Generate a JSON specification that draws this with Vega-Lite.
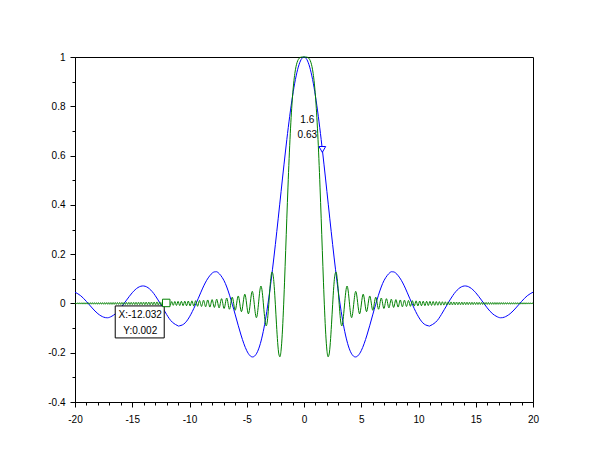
{
  "$schema": "https://vega.github.io/schema/vega-lite/v6.json",
  "width": 458,
  "height": 345,
  "autosize": "none",
  "padding": {"left": 75, "top": 57, "right": 77, "bottom": 58},
  "background": "white",
  "config": {
    "view": {"stroke": "black", "strokeWidth": 1},
    "axis": {"labelFont": "Liberation Sans", "labelFontSize": 10, "labelColor": "#000", "domainColor": "#000", "tickColor": "#000", "grid": false, "domainWidth": 1, "tickWidth": 1, "title": null}
  },
  "datasets": {
    "blue": [
      {"x":-20,"y":0.0456},{"x":-19.5,"y":0.0311},{"x":-19,"y":0.0079},{"x":-18.5,"y":-0.0185},{"x":-18,"y":-0.0417},{"x":-17.5,"y":-0.0557},{"x":-17.2208,"y":-0.058},{"x":-17,"y":-0.0566},{"x":-16.5,"y":-0.0431},{"x":-16,"y":-0.018},{"x":-15.5,"y":0.0133},{"x":-15,"y":0.0434},{"x":-14.5,"y":0.0645},{"x":-14,"y":0.0708},{"x":-13.5,"y":0.0595},{"x":-13,"y":0.0323},{"x":-12.5,"y":-0.0053},{"x":-12,"y":-0.0447},{"x":-11.5,"y":-0.0761},{"x":-11,"y":-0.0909},{"x":-10.9041,"y":-0.0913},{"x":-10.5,"y":-0.0838},{"x":-10,"y":-0.0544},{"x":-9.5,"y":-0.0079},{"x":-9,"y":0.0458},{"x":-8.5,"y":0.0939},{"x":-8,"y":0.1237},{"x":-7.7253,"y":0.1284},{"x":-7.5,"y":0.1251},{"x":-7,"y":0.0939},{"x":-6.5,"y":0.0331},{"x":-6,"y":-0.0466},{"x":-5.5,"y":-0.1283},{"x":-5,"y":-0.1918},{"x":-4.5,"y":-0.2172},{"x":-4,"y":-0.1892},{"x":-3.5,"y":-0.1002},{"x":-3,"y":0.047},{"x":-2.5,"y":0.2394},{"x":-2,"y":0.4546},{"x":-1.5,"y":0.665},{"x":-1,"y":0.8415},{"x":-0.5,"y":0.9589},
      {"x":0,"y":1},
      {"x":0.5,"y":0.9589},{"x":1,"y":0.8415},{"x":1.5,"y":0.665},{"x":2,"y":0.4546},{"x":2.5,"y":0.2394},{"x":3,"y":0.047},{"x":3.5,"y":-0.1002},{"x":4,"y":-0.1892},{"x":4.5,"y":-0.2172},{"x":5,"y":-0.1918},{"x":5.5,"y":-0.1283},{"x":6,"y":-0.0466},{"x":6.5,"y":0.0331},{"x":7,"y":0.0939},{"x":7.5,"y":0.1251},{"x":7.7253,"y":0.1284},{"x":8,"y":0.1237},{"x":8.5,"y":0.0939},{"x":9,"y":0.0458},{"x":9.5,"y":-0.0079},{"x":10,"y":-0.0544},{"x":10.5,"y":-0.0838},{"x":10.9041,"y":-0.0913},{"x":11,"y":-0.0909},{"x":11.5,"y":-0.0761},{"x":12,"y":-0.0447},{"x":12.5,"y":-0.0053},{"x":13,"y":0.0323},{"x":13.5,"y":0.0595},{"x":14,"y":0.0708},{"x":14.5,"y":0.0645},{"x":15,"y":0.0434},{"x":15.5,"y":0.0133},{"x":16,"y":-0.018},{"x":16.5,"y":-0.0431},{"x":17,"y":-0.0566},{"x":17.2208,"y":-0.058},{"x":17.5,"y":-0.0557},{"x":18,"y":-0.0417},{"x":18.5,"y":-0.0185},{"x":19,"y":0.0079},{"x":19.5,"y":0.0311},{"x":20,"y":0.0456}
    ],
    "green": [
      {"x":-20,"y":-0.0021},{"x":-19.935,"y":0.0025},{"x":-19.856,"y":-0.0025},{"x":-19.777,"y":0.0026},{"x":-19.697,"y":-0.0026},{"x":-19.618,"y":0.0026},{"x":-19.537,"y":-0.0026},{"x":-19.457,"y":0.0026},{"x":-19.376,"y":-0.0027},{"x":-19.295,"y":0.0027},{"x":-19.213,"y":-0.0027},{"x":-19.131,"y":0.0027},{"x":-19.049,"y":-0.0028},{"x":-18.966,"y":0.0028},{"x":-18.883,"y":-0.0028},{"x":-18.8,"y":0.0028},{"x":-18.716,"y":-0.0029},{"x":-18.632,"y":0.0029},{"x":-18.547,"y":-0.0029},{"x":-18.463,"y":0.0029},{"x":-18.377,"y":-0.003},{"x":-18.292,"y":0.003},{"x":-18.205,"y":-0.003},{"x":-18.119,"y":0.003},{"x":-18.032,"y":-0.0031},{"x":-17.945,"y":0.0031},{"x":-17.857,"y":-0.0031},{"x":-17.769,"y":0.0032},{"x":-17.68,"y":-0.0032},{"x":-17.591,"y":0.0032},{"x":-17.502,"y":-0.0033},{"x":-17.412,"y":0.0033},{"x":-17.321,"y":-0.0033},{"x":-17.23,"y":0.0034},{"x":-17.139,"y":-0.0034},{"x":-17.047,"y":0.0034},{"x":-16.955,"y":-0.0035},{"x":-16.862,"y":0.0035},{"x":-16.768,"y":-0.0036},{"x":-16.674,"y":0.0036},{"x":-16.58,"y":-0.0036},{"x":-16.485,"y":0.0037},{"x":-16.389,"y":-0.0037},{"x":-16.293,"y":0.0038},{"x":-16.196,"y":-0.0038},{"x":-16.099,"y":0.0039},{"x":-16.001,"y":-0.0039},{"x":-15.903,"y":0.004},{"x":-15.804,"y":-0.004},{"x":-15.704,"y":0.0041},{"x":-15.604,"y":-0.0041},{"x":-15.503,"y":0.0042},{"x":-15.401,"y":-0.0042},{"x":-15.299,"y":0.0043},{"x":-15.196,"y":-0.0043},{"x":-15.092,"y":0.0044},{"x":-14.988,"y":-0.0045},{"x":-14.882,"y":0.0045},{"x":-14.776,"y":-0.0046},{"x":-14.67,"y":0.0046},{"x":-14.562,"y":-0.0047},{"x":-14.454,"y":0.0048},{"x":-14.345,"y":-0.0049},{"x":-14.235,"y":0.0049},{"x":-14.124,"y":-0.005},{"x":-14.013,"y":0.0051},{"x":-13.9,"y":-0.0052},{"x":-13.787,"y":0.0053},{"x":-13.672,"y":-0.0053},{"x":-13.557,"y":0.0054},{"x":-13.44,"y":-0.0055},{"x":-13.323,"y":0.0056},{"x":-13.205,"y":-0.0057},{"x":-13.085,"y":0.0058},{"x":-12.964,"y":-0.0059},{"x":-12.843,"y":0.0061},{"x":-12.72,"y":-0.0062},{"x":-12.596,"y":0.0063},{"x":-12.47,"y":-0.0064},{"x":-12.344,"y":0.0066},{"x":-12.216,"y":-0.0067},{"x":-12.087,"y":0.0068},{"x":-11.956,"y":-0.007},{"x":-11.824,"y":0.0072},{"x":-11.69,"y":-0.0073},{"x":-11.555,"y":0.0075},{"x":-11.418,"y":-0.0077},{"x":-11.28,"y":0.0079},{"x":-11.14,"y":-0.0081},{"x":-10.998,"y":0.0083},{"x":-10.854,"y":-0.0085},{"x":-10.708,"y":0.0087},{"x":-10.561,"y":-0.009},{"x":-10.411,"y":0.0092},{"x":-10.259,"y":-0.0095},{"x":-10.105,"y":0.0098},{"x":-9.948,"y":-0.0101},{"x":-9.789,"y":0.0104},{"x":-9.627,"y":-0.0108},{"x":-9.462,"y":0.0112},{"x":-9.295,"y":-0.0116},{"x":-9.124,"y":0.012},{"x":-8.951,"y":-0.0125},{"x":-8.773,"y":0.013},{"x":-8.592,"y":-0.0135},{"x":-8.408,"y":0.0141},{"x":-8.219,"y":-0.0148},{"x":-8.025,"y":0.0155},{"x":-7.827,"y":-0.0163},{"x":-7.624,"y":0.0172},{"x":-7.415,"y":-0.0182},{"x":-7.2,"y":0.0193},{"x":-6.978,"y":-0.0205},{"x":-6.749,"y":0.022},{"x":-6.512,"y":-0.0236},{"x":-6.267,"y":0.0255},{"x":-6.011,"y":-0.0277},{"x":-5.743,"y":0.0303},{"x":-5.463,"y":-0.0335},{"x":-5.168,"y":0.0374},{"x":-4.854,"y":-0.0424},{"x":-4.519,"y":0.049},{"x":-4.157,"y":-0.0579},{"x":-3.76,"y":0.0707},
      {"x":-3.3,"y":-0.0913},{"x":-3.2,"y":-0.0711},{"x":-3.1,"y":-0.0192},{"x":-3.0,"y":0.0458},{"x":-2.9,"y":0.101},{"x":-2.8,"y":0.1275},{"x":-2.7,"y":0.116},{"x":-2.6,"y":0.0679},{"x":-2.5,"y":-0.0053},{"x":-2.4,"y":-0.0868},{"x":-2.3,"y":-0.1583},{"x":-2.2,"y":-0.2049},{"x":-2.1,"y":-0.2165},{"x":-2.0,"y":-0.1892},{"x":-1.9,"y":-0.1251},{"x":-1.8,"y":-0.0303},{"x":-1.7,"y":0.0861},{"x":-1.6,"y":0.2146},{"x":-1.5,"y":0.3458},{"x":-1.4,"y":0.4721},{"x":-1.3,"y":0.5874},{"x":-1.2,"y":0.6885},{"x":-1.1,"y":0.7732},{"x":-1.0,"y":0.8415},{"x":-0.9,"y":0.8942},{"x":-0.8,"y":0.9331},{"x":-0.7,"y":0.9605},{"x":-0.6,"y":0.9785},{"x":-0.5,"y":0.9896},{"x":-0.4,"y":0.9957},{"x":-0.3,"y":0.9987},{"x":-0.2,"y":0.9997},{"x":-0.1,"y":1.0},
      {"x":0,"y":1},
      {"x":0.1,"y":1.0},{"x":0.2,"y":0.9997},{"x":0.3,"y":0.9987},{"x":0.4,"y":0.9957},{"x":0.5,"y":0.9896},{"x":0.6,"y":0.9785},{"x":0.7,"y":0.9605},{"x":0.8,"y":0.9331},{"x":0.9,"y":0.8942},{"x":1.0,"y":0.8415},{"x":1.1,"y":0.7732},{"x":1.2,"y":0.6885},{"x":1.3,"y":0.5874},{"x":1.4,"y":0.4721},{"x":1.5,"y":0.3458},{"x":1.6,"y":0.2146},{"x":1.7,"y":0.0861},{"x":1.8,"y":-0.0303},{"x":1.9,"y":-0.1251},{"x":2.0,"y":-0.1892},{"x":2.1,"y":-0.2165},{"x":2.2,"y":-0.2049},{"x":2.3,"y":-0.1583},{"x":2.4,"y":-0.0868},{"x":2.5,"y":-0.0053},{"x":2.6,"y":0.0679},{"x":2.7,"y":0.116},{"x":2.8,"y":0.1275},{"x":2.9,"y":0.101},{"x":3.0,"y":0.0458},{"x":3.1,"y":-0.0192},{"x":3.2,"y":-0.0711},{"x":3.3,"y":-0.0913},
      {"x":3.76,"y":0.0707},{"x":4.157,"y":-0.0579},{"x":4.519,"y":0.049},{"x":4.854,"y":-0.0424},{"x":5.168,"y":0.0374},{"x":5.463,"y":-0.0335},{"x":5.743,"y":0.0303},{"x":6.011,"y":-0.0277},{"x":6.267,"y":0.0255},{"x":6.512,"y":-0.0236},{"x":6.749,"y":0.022},{"x":6.978,"y":-0.0205},{"x":7.2,"y":0.0193},{"x":7.415,"y":-0.0182},{"x":7.624,"y":0.0172},{"x":7.827,"y":-0.0163},{"x":8.025,"y":0.0155},{"x":8.219,"y":-0.0148},{"x":8.408,"y":0.0141},{"x":8.592,"y":-0.0135},{"x":8.773,"y":0.013},{"x":8.951,"y":-0.0125},{"x":9.124,"y":0.012},{"x":9.295,"y":-0.0116},{"x":9.462,"y":0.0112},{"x":9.627,"y":-0.0108},{"x":9.789,"y":0.0104},{"x":9.948,"y":-0.0101},{"x":10.105,"y":0.0098},{"x":10.259,"y":-0.0095},{"x":10.411,"y":0.0092},{"x":10.561,"y":-0.009},{"x":10.708,"y":0.0087},{"x":10.854,"y":-0.0085},{"x":10.998,"y":0.0083},{"x":11.14,"y":-0.0081},{"x":11.28,"y":0.0079},{"x":11.418,"y":-0.0077},{"x":11.555,"y":0.0075},{"x":11.69,"y":-0.0073},{"x":11.824,"y":0.0072},{"x":11.956,"y":-0.007},{"x":12.087,"y":0.0068},{"x":12.216,"y":-0.0067},{"x":12.344,"y":0.0066},{"x":12.47,"y":-0.0064},{"x":12.596,"y":0.0063},{"x":12.72,"y":-0.0062},{"x":12.843,"y":0.0061},{"x":12.964,"y":-0.0059},{"x":13.085,"y":0.0058},{"x":13.205,"y":-0.0057},{"x":13.323,"y":0.0056},{"x":13.44,"y":-0.0055},{"x":13.557,"y":0.0054},{"x":13.672,"y":-0.0053},{"x":13.787,"y":0.0053},{"x":13.9,"y":-0.0052},{"x":14.013,"y":0.0051},{"x":14.124,"y":-0.005},{"x":14.235,"y":0.0049},{"x":14.345,"y":-0.0049},{"x":14.454,"y":0.0048},{"x":14.562,"y":-0.0047},{"x":14.67,"y":0.0046},{"x":14.776,"y":-0.0046},{"x":14.882,"y":0.0045},{"x":14.988,"y":-0.0045},{"x":15.092,"y":0.0044},{"x":15.196,"y":-0.0043},{"x":15.299,"y":0.0043},{"x":15.401,"y":-0.0042},{"x":15.503,"y":0.0042},{"x":15.604,"y":-0.0041},{"x":15.704,"y":0.0041},{"x":15.804,"y":-0.004},{"x":15.903,"y":0.004},{"x":16.001,"y":-0.0039},{"x":16.099,"y":0.0039},{"x":16.196,"y":-0.0038},{"x":16.293,"y":0.0038},{"x":16.389,"y":-0.0037},{"x":16.485,"y":0.0037},{"x":16.58,"y":-0.0036},{"x":16.674,"y":0.0036},{"x":16.768,"y":-0.0036},{"x":16.862,"y":0.0035},{"x":16.955,"y":-0.0035},{"x":17.047,"y":0.0034},{"x":17.139,"y":-0.0034},{"x":17.23,"y":0.0034},{"x":17.321,"y":-0.0033},{"x":17.412,"y":0.0033},{"x":17.502,"y":-0.0033},{"x":17.591,"y":0.0032},{"x":17.68,"y":-0.0032},{"x":17.769,"y":0.0032},{"x":17.857,"y":-0.0031},{"x":17.945,"y":0.0031},{"x":18.032,"y":-0.0031},{"x":18.119,"y":0.003},{"x":18.205,"y":-0.003},{"x":18.292,"y":0.003},{"x":18.377,"y":-0.003},{"x":18.463,"y":0.0029},{"x":18.547,"y":-0.0029},{"x":18.632,"y":0.0029},{"x":18.716,"y":-0.0029},{"x":18.8,"y":0.0028},{"x":18.883,"y":-0.0028},{"x":18.966,"y":0.0028},{"x":19.049,"y":-0.0028},{"x":19.131,"y":0.0027},{"x":19.213,"y":-0.0027},{"x":19.295,"y":0.0027},{"x":19.376,"y":-0.0027},{"x":19.457,"y":0.0026},{"x":19.537,"y":-0.0026},{"x":19.618,"y":0.0026},{"x":19.697,"y":-0.0026},{"x":19.777,"y":0.0026},{"x":19.856,"y":-0.0025},{"x":19.935,"y":0.0025},{"x":20,"y":-0.0021}
    ],
    "tip1": [{"x": -12.032, "y": 0.002, "l1": "X:-12.032", "l2": "Y:0.002"}],
    "tip2": [{"x": 1.6, "y": 0.625, "l1": "1.6", "l2": "0.63"}]
  },
  "resolve": {"axis": {"x": "independent", "y": "independent"}},
  "layer": [
    {
      "data": {"name": "blue"},
      "mark": {"type": "line", "color": "#0000ff", "strokeWidth": 1, "interpolate": "natural"},
      "encoding": {
        "x": {"field": "x", "type": "quantitative", "scale": {"domain": [-20, 20], "nice": false, "zero": false},
              "axis": {"orient": "bottom", "values": [-20, -15, -10, -5, 0, 5, 10, 15, 20], "tickSize": 5, "labelPadding": 7, "labelExpr": "'' + datum.value", "labelFlush": false, "labelOverlap": false}},
        "y": {"field": "y", "type": "quantitative", "scale": {"domain": [-0.4, 1], "nice": false, "zero": false},
              "axis": {"orient": "left", "values": [-0.4, -0.2, 0, 0.2, 0.4, 0.6, 0.8, 1], "tickSize": 5, "labelPadding": 5, "labelExpr": "'' + datum.value", "labelFlush": false, "labelOverlap": false}}
      }
    },
    {
      "data": {"name": "green"},
      "mark": {"type": "line", "color": "#008000", "strokeWidth": 1, "interpolate": "monotone"},
      "encoding": {
        "x": {"field": "x", "type": "quantitative",
              "axis": {"orient": "bottom", "values": [-19, -18, -17, -16, -14, -13, -12, -11, -9, -8, -7, -6, -4, -3, -2, -1, 1, 2, 3, 4, 6, 7, 8, 9, 11, 12, 13, 14, 16, 17, 18, 19], "tickSize": 3, "labels": false, "domain": false}},
        "y": {"field": "y", "type": "quantitative",
              "axis": {"orient": "left", "values": [-0.3, -0.1, 0.1, 0.3, 0.5, 0.7, 0.9], "tickSize": 3, "labels": false, "domain": false}}
      }
    },
    {
      "data": {"name": "tip1"},
      "mark": {"type": "rect", "fill": "white", "stroke": "black", "strokeWidth": 1, "xOffset": -51, "x2Offset": -2, "yOffset": 3, "y2Offset": 35},
      "encoding": {
        "x": {"field": "x", "type": "quantitative", "axis": null},
        "x2": {"field": "x"},
        "y": {"field": "y", "type": "quantitative", "axis": null},
        "y2": {"field": "y"}
      }
    },
    {
      "data": {"name": "tip1"},
      "mark": {"type": "text", "font": "Liberation Sans", "fontSize": 10, "color": "#000", "align": "center", "baseline": "middle", "dx": -26, "dy": 12},
      "encoding": {
        "x": {"field": "x", "type": "quantitative", "axis": null},
        "y": {"field": "y", "type": "quantitative", "axis": null},
        "text": {"field": "l1"}
      }
    },
    {
      "data": {"name": "tip1"},
      "mark": {"type": "text", "font": "Liberation Sans", "fontSize": 10, "color": "#000", "align": "center", "baseline": "middle", "dx": -26, "dy": 28},
      "encoding": {
        "x": {"field": "x", "type": "quantitative", "axis": null},
        "y": {"field": "y", "type": "quantitative", "axis": null},
        "text": {"field": "l2"}
      }
    },
    {
      "data": {"name": "tip1"},
      "mark": {"type": "point", "shape": "square", "size": 56, "filled": true, "fill": "white", "stroke": "#008000", "strokeWidth": 1, "opacity": 1},
      "encoding": {
        "x": {"field": "x", "type": "quantitative", "axis": null},
        "y": {"field": "y", "type": "quantitative", "axis": null}
      }
    },
    {
      "data": {"name": "tip2"},
      "mark": {"type": "text", "font": "Liberation Sans", "fontSize": 10, "color": "#000", "align": "center", "baseline": "middle", "dx": -15, "dy": -29},
      "encoding": {
        "x": {"field": "x", "type": "quantitative", "axis": null},
        "y": {"field": "y", "type": "quantitative", "axis": null},
        "text": {"field": "l1"}
      }
    },
    {
      "data": {"name": "tip2"},
      "mark": {"type": "text", "font": "Liberation Sans", "fontSize": 10, "color": "#000", "align": "center", "baseline": "middle", "dx": -15, "dy": -14},
      "encoding": {
        "x": {"field": "x", "type": "quantitative", "axis": null},
        "y": {"field": "y", "type": "quantitative", "axis": null},
        "text": {"field": "l2"}
      }
    },
    {
      "data": {"name": "tip2"},
      "mark": {"type": "point", "shape": "triangle-down", "size": 45, "filled": true, "fill": "white", "stroke": "#0000ff", "strokeWidth": 1, "opacity": 1},
      "encoding": {
        "x": {"field": "x", "type": "quantitative", "axis": null},
        "y": {"field": "y", "type": "quantitative", "axis": null}
      }
    }
  ]
}
